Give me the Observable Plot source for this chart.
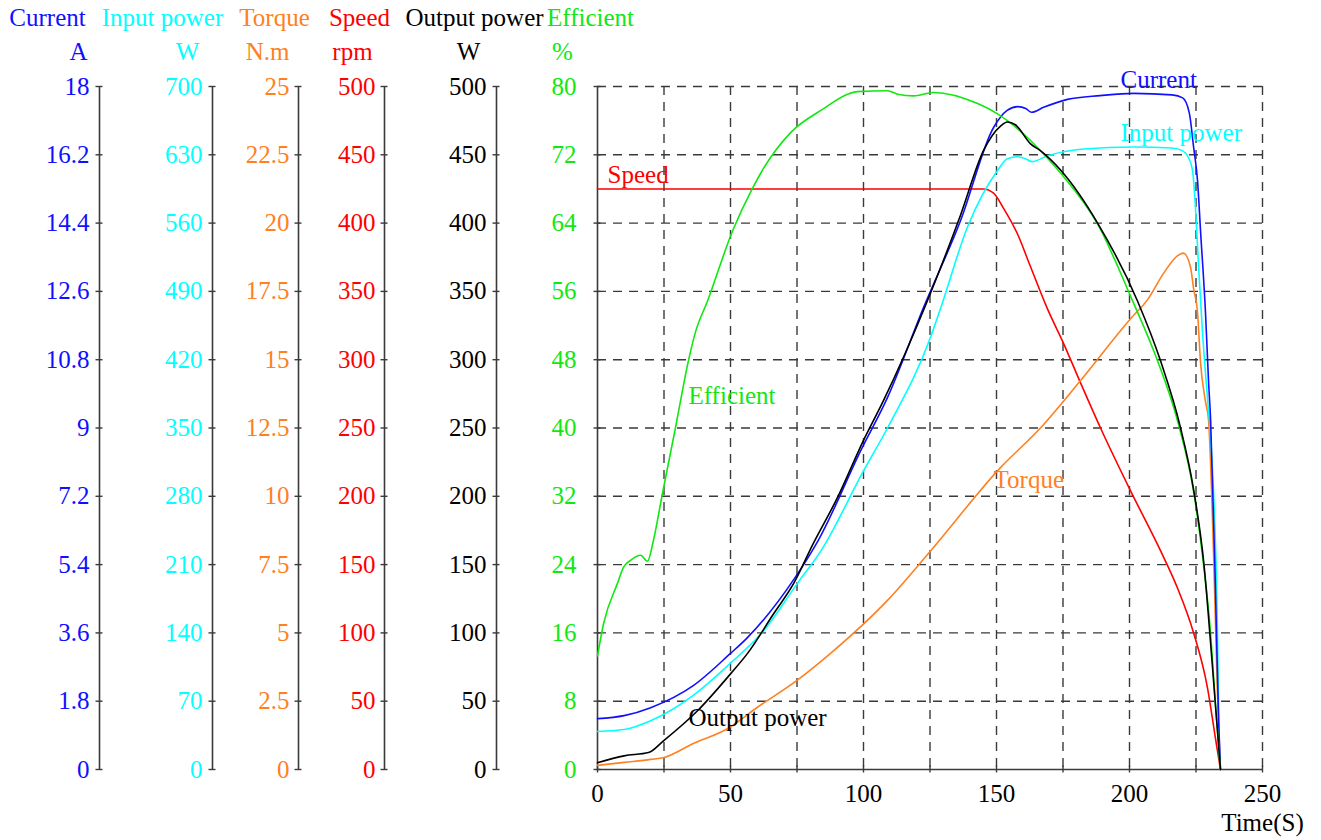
<!DOCTYPE html>
<html><head><meta charset="utf-8">
<script src="https://cdn.jsdelivr.net/npm/d3@7"></script>
<script src="https://cdn.jsdelivr.net/npm/@observablehq/plot@0.6"></script>
<style>body{margin:0;background:#fff}#chart svg{display:block}</style>
</head><body><div id="chart"></div>
<script>
// ---- data (time in seconds, values in each series' own unit) ----
const currentT = [0,10,20,36,50,56,74,83,99,109,122.6,136.5,148.9,154,158,161,163.2,167.7,176.7,189,201.5,216,220,222.5,224.1,225.6,226.7,228.6,229.7,230.5,232.3,233.5,234.2];
const currentV = [1.34,1.42,1.63,2.21,3.06,3.45,5.03,6.04,8.41,9.8,12.18,14.47,16.92,17.37,17.47,17.42,17.32,17.45,17.66,17.76,17.82,17.78,17.7,17.3,16.4,15.5,14.2,12.0,10.25,9.2,4.8,1.3,0];

const inputT = [0,10,20,36,50,62.4,75.2,84,100,109,125.2,128.9,139.1,150.4,154.1,157.9,160.9,163.2,169.2,182.7,201.5,216,220,222,223.7,224.8,225.9,227.4,229.3,230.5,233,233.8,234.2];
const inputV = [39,41,50,76,109,142,191,224,306,350,443,472,556,614,626,628,626,623,629,636,638,637,634,628,614,576,519,450,381,340,153,16,0];

const outputT = [0,10,19.2,24.8,37.6,50,56.4,66.2,73.7,81,90.2,100,107.5,124,136.5,145.1,151.5,154.1,157.1,162.8,166.5,174,188,203,211.7,219.2,224,228,231,234.2];
const outputV = [5,10,12.4,21,43,70,85,114,136,165,199,241,270,343,406,453,471,474,472,458,453,439,400,343,299,250,206,150,80,0];

const speedT = [0,145,148.9,152.6,157.9,162.8,169.2,175.2,181.6,189.1,200.4,211.7,218,224.1,229.3,232.3,234.2];
const speedV = [425,425,422,411,392,368,337,312,283,250,204,160,133,100,60,23,0];

const torqueT = [0,10,20,25,36,49,60,75,87.6,109,125.2,151.5,166.5,181.6,200.4,206.8,212.8,218,220.3,222.9,224.1,225.6,226.7,228.5,229.7,231.6,233,234];
const torqueV = [0.15,0.26,0.37,0.44,0.95,1.5,2.27,3.26,4.25,6.19,8.0,11.05,12.5,14.24,16.5,17.2,18.16,18.8,18.9,18.4,17.6,16.7,14.9,13.5,12.8,7.9,3.0,0.3];

const effT = [0,2.3,7.5,9.8,12.4,16.2,18.8,21,24.4,29.3,34.2,36.8,41.4,50.8,58.3,62.4,72.6,85,94,97.7,109,112.8,118.8,126.3,142.9,150.4,161.7,167.7,174,188,201,210.5,218,224.4,227.8,230.5,232.3,234.2];
const effV = [13.3,17.1,21.8,23.7,24.5,25.1,24.4,26.8,32.3,40.0,47.9,51.2,54.9,63.1,68.1,70.4,74.6,77.4,79.1,79.4,79.5,79.1,78.9,79.3,78.0,76.8,74.0,72.1,69.9,63.9,55,47.9,40.9,32,24.1,15.9,7.7,0];

// axes (left to right)
const axisNames = ["Current","Input power","Torque","Speed","Output power","Efficient"];
const axisUnits = ["A","W","N.m","rpm","W","%"];
const axisMax   = [18,700,25,500,500,80];

// in-plot series labels: [name, time, value in series unit]
const labelNames = ["Current","Input power","Speed","Efficient","Torque","Output power"];
const labelT     = [196.6,196.6,3.8,34.2,148.9,34.2];
const labelV     = [18.16,652,435,43.8,10.6,38];

const xTicks = d3.range(0, 251, 25);
const xLabels = d3.range(0, 251, 50);

// ---- styling / layout ----
const colors = {"Current":"#1010ff","Input power":"#00ffff","Torque":"#ff8020","Speed":"#ff0000","Output power":"#000000","Efficient":"#10e810"};
const axisLineX = [99,212,298,384,496,597];   // pixel x of each vertical axis
const headerX   = [47,162,274,359,474,590];   // pixel centre of header text
const unitX     = [78,187,267,352,468,562];   // pixel centre of unit text
const labelGap  = [10,10,9,9,10,21];
const W = 1321, H = 840, mL = 597, mR = 59, mT = 86, mB = 71;

const seriesDefs = [
  ["Speed", speedT, speedV, 500],
  ["Torque", torqueT, torqueV, 25],
  ["Input power", inputT, inputV, 700],
  ["Current", currentT, currentV, 18],
  ["Efficient", effT, effV, 80],
  ["Output power", outputT, outputV, 500]
];
const maxOf = Object.fromEntries(axisNames.map((n,i)=>[n, axisMax[i]]));

const fracTicks = d3.range(0, 11).map(i => i / 10);
const dash = "9,7";
const gridColor = "#3a3a3a";

const marks = [];
// grid
marks.push(Plot.ruleX(xTicks.filter(d => d > 0), {stroke: gridColor, strokeWidth: 1.4, strokeDasharray: dash}));
marks.push(Plot.ruleY(fracTicks.filter(d => d > 0), {stroke: gridColor, strokeWidth: 1.4, strokeDasharray: dash}));
marks.push(Plot.ruleY([0], {stroke: gridColor, strokeWidth: 1.6}));
// x axis ticks and labels
marks.push(Plot.axisX(xTicks, {tickSize: 7, dy: -3.5, fill: "none", label: null, stroke: gridColor, strokeWidth: 1.4}));
marks.push(Plot.axisX(xLabels, {tickSize: 0, tickPadding: 15, label: null, fill: "#000", fontSize: 25}));
marks.push(Plot.text(["Time(S)"], {x: [250], frameAnchor: "bottom", lineAnchor: "middle", dy: 53, fill: "#000", fontSize: 25}));

// left axes
axisNames.forEach((name, i) => {
  const off = axisLineX[i] - mL;
  const col = colors[name];
  marks.push(Plot.ruleX([0], {dx: off, stroke: gridColor, strokeWidth: 1.6}));
  marks.push(Plot.axisY(fracTicks, {
    anchor: "left", dx: off + 3.5, tickSize: 7, tickPadding: labelGap[i] - 3.5, label: null,
    stroke: gridColor, strokeWidth: 1.4, fill: col, fontSize: 25,
    tickFormat: d => String(+(d * axisMax[i]).toFixed(2))
  }));
  marks.push(Plot.text([name], {frameAnchor: "top-left", lineAnchor: "middle", dx: headerX[i] - mL, dy: 17 - mT, fill: col, fontSize: 25, textAnchor: "middle"}));
  marks.push(Plot.text([axisUnits[i]], {frameAnchor: "top-left", lineAnchor: "middle", dx: unitX[i] - mL, dy: 51 - mT, fill: col, fontSize: 25, textAnchor: "middle"}));
});

// series lines
seriesDefs.forEach(([name, ts, vs, max]) => {
  const rows = ts.map((t, k) => ({t, f: vs[k] / max}));
  marks.push(Plot.line(rows, {x: "t", y: "f", stroke: colors[name], strokeWidth: 1.6, curve: "monotone-x"}));
});

// in-plot labels
const labelRows = labelNames.map((n, i) => ({name: n, t: labelT[i], f: labelV[i] / maxOf[n]}));
marks.push(Plot.text(labelRows, {x: "t", y: "f", text: "name", fill: d => colors[d.name], fontSize: 25, textAnchor: "start"}));

const chart = Plot.plot({
  width: W, height: H,
  marginLeft: mL, marginRight: mR, marginTop: mT, marginBottom: mB,
  x: {domain: [0, 250]},
  y: {domain: [0, 1]},
  style: {fontFamily: "'Liberation Serif', 'Times New Roman', serif", fontSize: "25px", background: "#fff", color: "#000"},
  marks
});
document.getElementById("chart").appendChild(chart);
</script>
</body></html>
